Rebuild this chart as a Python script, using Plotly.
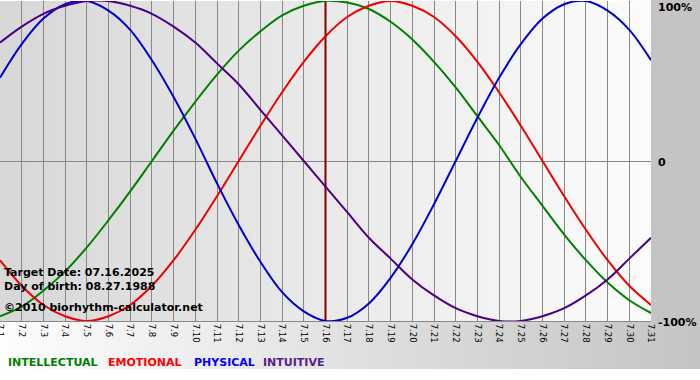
import plotly.graph_objects as go

# ---- data ----
days = list(range(1, 32))
tick_labels = ["7.%d" % d for d in days]
intellectual = [-0.97, -0.91, -0.81, -0.69, -0.54, -0.37, -0.19, 0.00, 0.19, 0.37,
                0.54, 0.69, 0.81, 0.91, 0.97, 1.00, 0.99, 0.95, 0.87, 0.76,
                0.62, 0.46, 0.28, 0.10, -0.10, -0.28, -0.46, -0.62, -0.76, -0.87, -0.95]
emotional = [-0.62, -0.78, -0.90, -0.97, -1.00, -0.97, -0.90, -0.78, -0.62, -0.43,
             -0.22, 0.00, 0.22, 0.43, 0.62, 0.78, 0.90, 0.97, 1.00, 0.97,
             0.90, 0.78, 0.62, 0.43, 0.22, 0.00, -0.22, -0.43, -0.62, -0.78, -0.90]
physical = [0.52, 0.73, 0.89, 0.98, 1.00, 0.94, 0.82, 0.63, 0.40, 0.14,
            -0.14, -0.40, -0.63, -0.82, -0.94, -1.00, -0.98, -0.89, -0.73, -0.52,
            -0.27, 0.00, 0.27, 0.52, 0.73, 0.89, 0.98, 1.00, 0.94, 0.82, 0.63]
intuitive = [0.74, 0.84, 0.92, 0.97, 1.00, 1.00, 0.97, 0.92, 0.84, 0.74,
             0.61, 0.48, 0.32, 0.16, 0.00, -0.16, -0.32, -0.48, -0.61, -0.74,
             -0.84, -0.92, -0.97, -1.00, -1.00, -0.97, -0.92, -0.84, -0.74, -0.61, -0.48]
target_day = 16
series_names = ["INTELLECTUAL", "EMOTIONAL", "PHYSICAL", "INTUITIVE"]
info_lines = ["Target Date: 07.16.2025", "Day of birth: 08.27.1988",
              "\u00a92010 biorhythm-calculator.net"]

FONT = "DejaVu Sans"
W, H = 700, 380
L, R, T, B = 0, 49, 1, 59
PW = W - L - R   # 651
PH = H - T - B   # 320

def px(x):
    return (x - L) / PW

def py(y):
    return (H - B - y) / PH

fig = go.Figure()
line_colors = ["#008000", "#f00000", "#0000cc", "#4b0082"]
for name, vals, c in zip(series_names, [intellectual, emotional, physical, intuitive], line_colors):
    fig.add_trace(go.Scatter(x=days, y=vals, mode="lines", name=name,
                             line=dict(color=c, width=2, shape="spline", smoothing=1),
                             hoverinfo="skip", showlegend=False))

shapes = []
# plot-area horizontal gradient
n = 36
for i in range(n):
    t = i / (n - 1)
    v = int(round(0xd8 + (0xfb - 0xd8) * t))
    shapes.append(dict(type="rect", xref="paper", yref="paper", layer="below",
                       x0=i / n, x1=(i + 1) / n + 0.002, y0=0, y1=1,
                       line=dict(width=0), fillcolor="rgb(%d,%d,%d)" % (v, v, v)))
# bottom strip gradient
m = 60
for i in range(m):
    t = i / (m - 1)
    v = int(round(0xfd + (0xc4 - 0xfd) * t))
    x0 = W * i / m
    x1 = W * (i + 1) / m + 1
    shapes.append(dict(type="rect", xref="paper", yref="paper", layer="below",
                       x0=px(x0), x1=px(x1), y0=py(369), y1=py(H - B),
                       line=dict(width=0), fillcolor="rgb(%d,%d,%d)" % (v, v, v)))
# right strip
shapes.append(dict(type="rect", xref="paper", yref="paper", layer="below",
                   x0=1, x1=px(W + 1), y0=py(H - B), y1=py(-1),
                   line=dict(width=0), fillcolor="#c4c4c4"))
# target-day marker
shapes.append(dict(type="line", xref="x", yref="y", layer="between",
                   x0=target_day, x1=target_day, y0=-1, y1=1,
                   line=dict(color="#800000", width=2)))

ann = []
for txt, y in zip(info_lines, [272, 286, 307]):
    ann.append(dict(text=txt, xref="paper", yref="paper", x=px(2), y=py(y),
                    xanchor="left", yanchor="middle", showarrow=False,
                    font=dict(family=FONT, size=11, color="black", weight="bold")))
for txt, y, anc in [("100%", 7, "middle"), ("0", 162, "middle"), ("-100%", 322, "middle")]:
    ann.append(dict(text=txt, xref="paper", yref="paper", x=px(656), y=py(y),
                    xanchor="left", yanchor=anc, showarrow=False,
                    font=dict(family=FONT, size=11, color="black", weight="bold")))
legend_colors = ["#008000", "#ff0000", "#0000ff", "#5a1a8a"]
for txt, x, c in zip(series_names, [6, 106, 192, 261], legend_colors):
    ann.append(dict(text=txt, xref="paper", yref="paper", x=px(x), y=py(362),
                    xanchor="left", yanchor="middle", showarrow=False,
                    font=dict(family=FONT, size=11, color=c, weight="bold")))

fig.update_layout(
    width=W, height=H,
    margin=dict(l=L, r=R, t=T, b=B, pad=0, autoexpand=False),
    paper_bgcolor="white", plot_bgcolor="rgba(0,0,0,0)",
    shapes=shapes, annotations=ann, showlegend=False,
    xaxis=dict(range=[1, 31], tickvals=days, ticktext=tick_labels, tickangle=90,
               tickfont=dict(family=FONT, size=8.5, color="black"),
               ticklabeloverflow="allow", automargin=False,
               showgrid=True, gridcolor="#888888", gridwidth=1,
               showline=True, linecolor="#888888", linewidth=1,
               ticks="", zeroline=False, fixedrange=True),
    yaxis=dict(range=[-1, 1], showticklabels=False, showgrid=False, automargin=False,
               zeroline=True, zerolinecolor="#888888", zerolinewidth=1,
               ticks="", fixedrange=True),
)

fig.write_html("out.html", config=dict(displayModeBar=False),
               post_script="document.body.style.margin='0';document.body.style.overflow='hidden';")
